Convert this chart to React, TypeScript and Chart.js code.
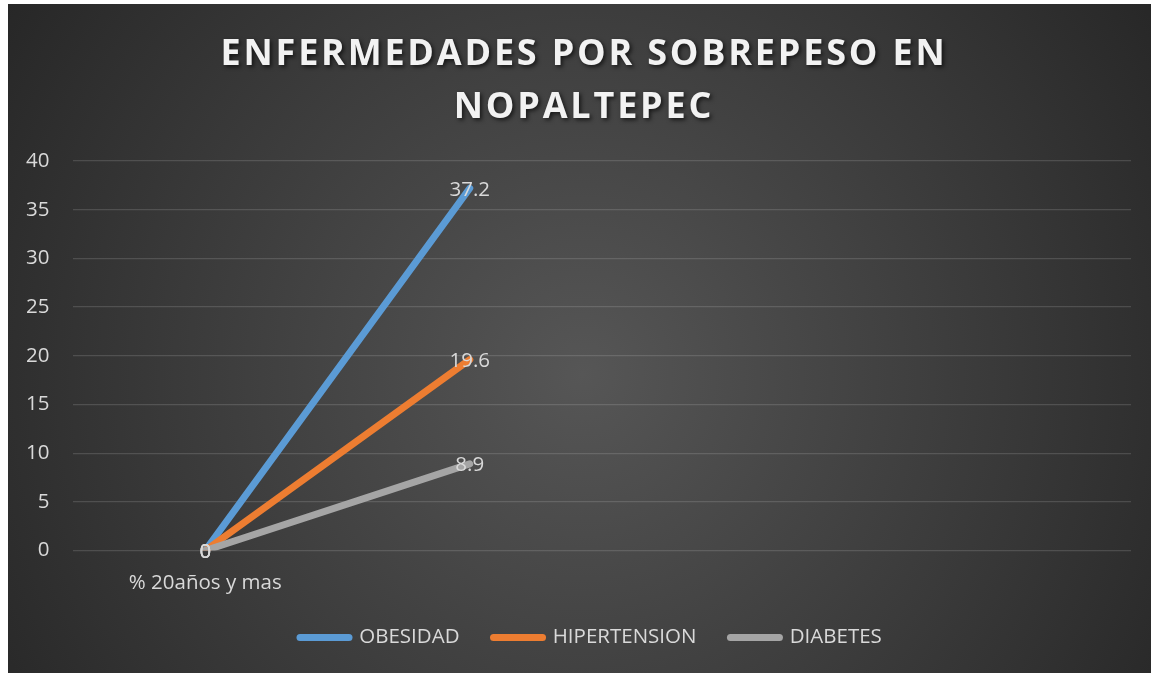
import React, { useEffect, useRef } from "react";
import { Chart, registerables } from "chart.js";

Chart.register(...registerables);

// ---- data ----
const categories = ["% 20años y mas", "", "", ""];
const seriesNames = ["OBESIDAD", "HIPERTENSION", "DIABETES"];
const obesidad = [0, 37.2, null, null];
const hipertension = [0, 19.6, null, null];
const diabetes = [0, 8.9, null, null];
const seriesColors = ["#5B9BD5", "#ED7D31", "#A5A5A5"];
const titleLines = ["ENFERMEDADES POR SOBREPESO EN", "NOPALTEPEC"];
const yMin = 0;
const yMax = 40;
const yStep = 5;

const FONT = "'Open Sans', 'DejaVu Sans', sans-serif";
const TEXT = "#d9d9d9";
const FS = 20.5;

const backgroundPlugin = {
  id: "bgGradient",
  beforeDraw(chart: any) {
    const { ctx, width, height } = chart;
    ctx.save();
    const g = ctx.createRadialGradient(575, 370, 0, 575, 370, 700);
    g.addColorStop(0, "#565656");
    g.addColorStop(1, "#262626");
    ctx.fillStyle = g;
    ctx.fillRect(0, 0, width, height);
    ctx.restore();
  },
};

const titlePlugin = {
  id: "customTitle",
  afterDraw(chart: any) {
    const { ctx } = chart;
    ctx.save();
    ctx.font = `bold 36px ${FONT}`;
    (ctx as any).letterSpacing = "2.8px";
    ctx.textAlign = "center";
    ctx.textBaseline = "alphabetic";
    ctx.fillStyle = "#f2f2f2";
    ctx.shadowColor = "rgba(0,0,0,0.65)";
    ctx.shadowOffsetX = 2;
    ctx.shadowOffsetY = 2;
    ctx.shadowBlur = 4;
    const baselines = [60.5, 113.5];
    titleLines.forEach((t, i) => ctx.fillText(t, 576, baselines[i]));
    ctx.restore();
  },
};

const dataLabelPlugin = {
  id: "pointLabels",
  afterDatasetsDraw(chart: any) {
    const { ctx } = chart;
    ctx.save();
    ctx.font = `${FS}px ${FONT}`;
    ctx.fillStyle = TEXT;
    ctx.textAlign = "center";
    ctx.textBaseline = "middle";
    chart.data.datasets.forEach((ds: any, di: number) => {
      const meta = chart.getDatasetMeta(di);
      meta.data.forEach((el: any, i: number) => {
        const v = ds.data[i];
        if (v === null || v === undefined) return;
        ctx.fillText(String(v), el.x, el.y + 1.5);
      });
    });
    ctx.restore();
  },
};

const legendShiftPlugin = {
  id: "legendShift",
  afterLayout(chart: any) {
    const lg = chart.legend;
    if (!lg || !lg.lineWidths) return;
    const p = lg.options.labels.padding;
    const start = (lg.left + p + lg.right - lg.lineWidths[0]) / 2;
    const dx = 292 - start;
    lg.left += dx;
    lg.right += dx;
    const h = lg.height;
    lg.top = 633.5 - FS / 2 - p;
    lg.bottom = lg.top + h;
  },
};

export default function App() {
  const ref = useRef<HTMLCanvasElement | null>(null);

  useEffect(() => {
    if (!ref.current) return;
    const values = [obesidad, hipertension, diabetes];
    const chart = new Chart(ref.current, {
      type: "line",
      data: {
        labels: categories,
        datasets: seriesNames.map((name, i) => ({
          label: name,
          data: values[i],
          borderColor: seriesColors[i],
          backgroundColor: seriesColors[i],
          borderWidth: 7,
          borderCapStyle: "round",
          borderJoinStyle: "round",
          pointRadius: 0,
          pointHoverRadius: 0,
          pointBorderWidth: 7,
          tension: 0,
          fill: false,
          order: seriesNames.length - i,
        })),
      },
      options: {
        responsive: false,
        animation: false,
        events: [],
        layout: { padding: { top: 157, right: 20, left: 0, bottom: 0 } },
        scales: {
          x: {
            type: "category",
            offset: true,
            grid: { display: false, drawTicks: false },
            border: { display: false },
            ticks: {
              color: TEXT,
              font: { family: FONT, size: FS },
              padding: 20,
              maxRotation: 0,
              autoSkip: false,
            },
            afterFit(scale: any) {
              scale.height = 58;
            },
          },
          y: {
            min: yMin,
            max: yMax,
            grid: {
              color: "rgba(217,217,217,0.17)",
              lineWidth: 1.2,
              drawTicks: false,
            },
            border: { display: false },
            ticks: {
              stepSize: yStep,
              color: TEXT,
              font: { family: FONT, size: FS },
              padding: 23.5,
            },
            afterFit(scale: any) {
              scale.width = 65;
            },
          },
        },
        plugins: {
          title: { display: false },
          tooltip: { enabled: false },
          legend: {
            display: true,
            position: "bottom",
            labels: {
              color: TEXT,
              font: { family: FONT, size: FS },
              usePointStyle: true,
              pointStyle: "line",
              pointStyleWidth: 49,
              padding: 34,
              sort: (a: any, b: any) => a.datasetIndex - b.datasetIndex,
              generateLabels(c: any) {
                const items = (Chart as any).defaults.plugins.legend.labels.generateLabels(c);
                return items.map((it: any) => ({
                  ...it,
                  lineCap: "round",
                  lineWidth: 7,
                  strokeStyle: seriesColors[it.datasetIndex],
                  pointStyle: "line",
                }));
              },
            },
          },
        },
      },
      plugins: [backgroundPlugin, dataLabelPlugin, titlePlugin, legendShiftPlugin],
    } as any);
    return () => chart.destroy();
  }, []);

  return (
    <div style={{ position: "absolute", left: 8, top: 4, width: 1143, height: 669 }}>
      <canvas ref={ref} width={1143} height={669} style={{ display: "block" }} />
    </div>
  );
}
